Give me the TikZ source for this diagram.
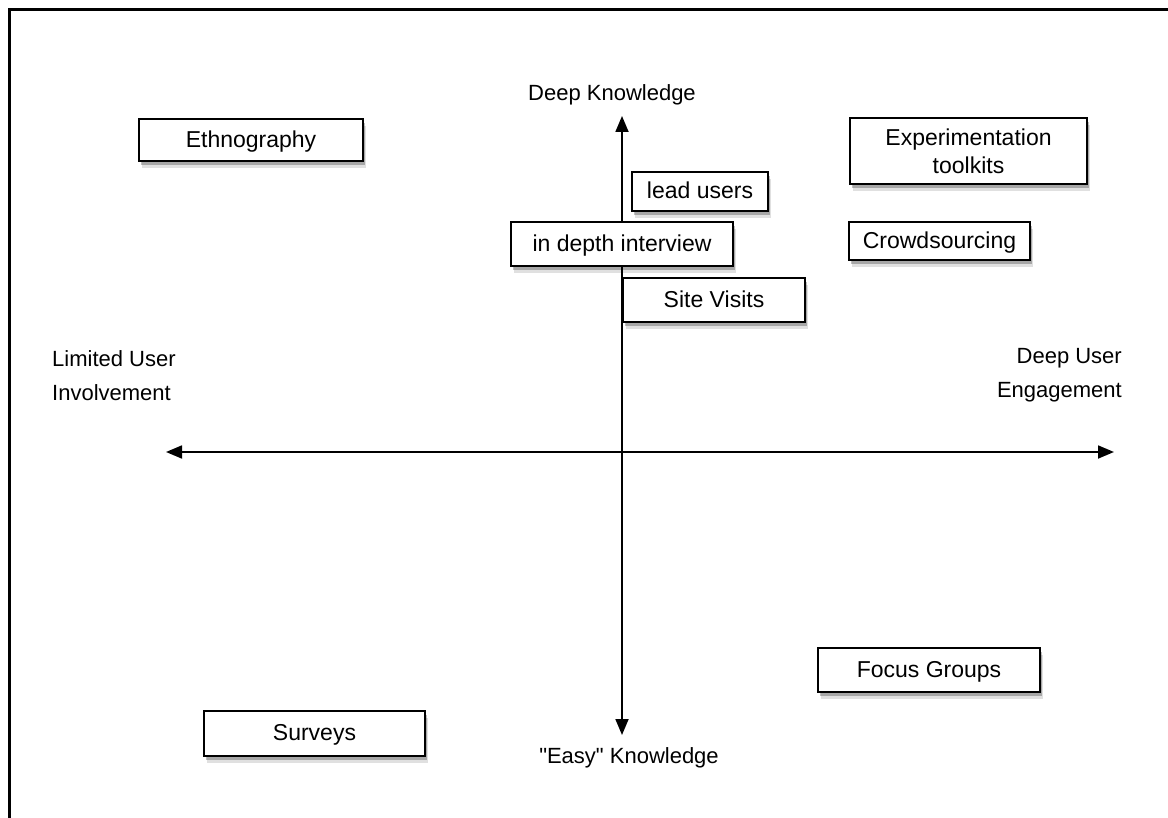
\documentclass[tikz,border=0pt]{standalone}
\usepackage{fontspec}
\setmainfont{Liberation Sans}[Ligatures=TeXOff]
\usetikzlibrary{shadows,arrows.meta}
\tikzset{
  method/.style={draw=black, line width=1.6pt, fill=white, inner sep=0pt,
    font=\fontsize{23}{28}\selectfont, align=center,
    drop shadow={shadow xshift=3pt, shadow yshift=-7pt, fill=black, opacity=0.12},
    drop shadow={shadow xshift=2pt, shadow yshift=-4pt, fill=black, opacity=0.25}},
  axislabel/.style={font=\fontsize{22}{34}\selectfont, inner sep=0pt},
  axis/.style={line width=1.8pt, {Triangle[length=16pt,width=13pt]}-{Triangle[length=16pt,width=13pt]}},
  frame/.style={line width=3pt, black}
}
\begin{document}
\begin{tikzpicture}[x=1pt,y=1pt]
\useasboundingbox (0,0) rectangle (1168,-818);
\fill[white] (0,0) rectangle (1168,-818);
% frame
\coordinate (fbl) at (9,-818);
\coordinate (ftl) at (9,-10);
\coordinate (ftr) at (1168,-10);
\draw[frame] (fbl) -- (ftl) -- (ftr);
% axes
\coordinate (top) at (622,-116);
\coordinate (bot) at (622,-735);
\coordinate (lft) at (166,-452);
\coordinate (rgt) at (1114,-452);
\draw[axis] (top) -- (bot);
\draw[axis] (lft) -- (rgt);
% axis labels
\node[axislabel] (dk) at (612,-95) {Deep Knowledge};
\node[axislabel] (ek) at (629,-758) {"Easy" Knowledge};
\node[axislabel, anchor=west, align=left] (lui) at (52,-376) {Limited User\\Involvement};
\node[axislabel, anchor=east, align=right] (due) at (1122,-375) {Deep User\\Engagement};
% boxes
\node[method, minimum width=224pt, minimum height=42pt, text depth=2pt] (eth) at (251,-140) {Ethnography};
\node[method, minimum width=136pt, minimum height=39pt, text depth=2pt] (lead) at (700,-191.5) {lead users};
\node[method, minimum width=222pt, minimum height=44pt, text depth=2pt] (idi) at (622,-244) {in depth interview};
\node[method, minimum width=182pt, minimum height=44pt, text depth=2pt] (site) at (714,-300) {Site Visits};
\node[method, minimum width=237pt, minimum height=66pt] (exp) at (968.5,-151) {Experimentation\\toolkits};
\node[method, minimum width=181pt, minimum height=38pt, text depth=2pt] (crowd) at (939.5,-241) {Crowdsourcing};
\node[method, minimum width=222pt, minimum height=44pt, text depth=2pt] (focus) at (929,-670) {Focus Groups};
\node[method, minimum width=221pt, minimum height=45pt, text depth=2pt] (surv) at (314.5,-733.5) {Surveys};
\end{tikzpicture}
\end{document}
